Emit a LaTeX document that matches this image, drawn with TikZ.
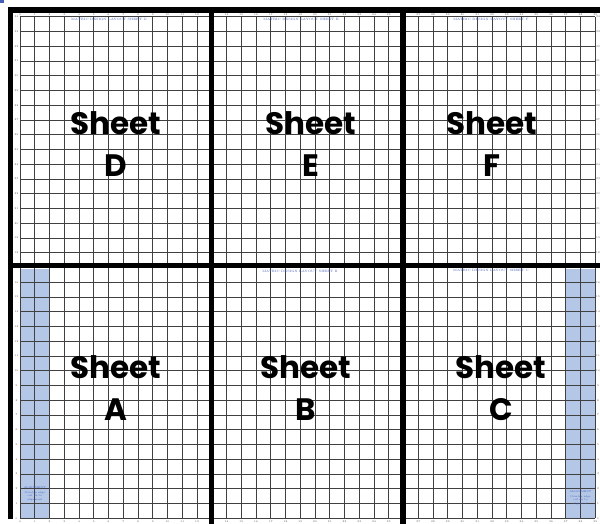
\documentclass[tikz,border=0pt]{standalone}
\usepackage{fontspec}
\newfontfamily\sheetfont{Poppins}
\definecolor{stripblue}{RGB}{180,199,231}
\definecolor{hdrblue}{RGB}{70,95,185}
\tikzset{
  gridln/.style={line width=0.8pt, black!75},
  thickln/.style={line width=5.5pt, black},
  biglbl/.style={anchor=base, font=\sheetfont\bfseries\fontsize{31}{40}\selectfont, inner sep=0pt},
  tinynum/.style={font=\fontsize{2.6}{3}\selectfont, text=black!70, inner sep=0pt},
  hdr/.style={font=\fontsize{3.2}{3.6}\selectfont, text=hdrblue, inner sep=0pt},
  striptxt/.style={font=\fontsize{2.6}{3.6}\selectfont, text=hdrblue, align=center, inner sep=0pt}
}
\begin{document}
\begin{tikzpicture}[x=1pt,y=-1pt]
\useasboundingbox (0,0) rectangle (600,524);
\fill[white] (0,0) rectangle (600,524);
% small blue mark at corner
\fill[hdrblue] (0,0) rectangle (4,3);
% blue strips
\fill[stripblue] (20,269) rectangle (49.5,518.3);
\fill[stripblue] (565.75,269) rectangle (595.25,518.3);
% grid
\foreach \k in {0,...,39}{
  \pgfmathsetmacro\xx{20+14.75*\k}
  \draw[gridln] (\xx,16.8) -- (\xx,518.3);
}
\foreach \j in {0,...,34}{
  \pgfmathsetmacro\yy{518.3-14.75*\j}
  \draw[gridln] (20,\yy) -- (595.25,\yy);
}
% column labels
\foreach \k in {0,...,39} {
  \pgfmathsetmacro\xx{20+14.75*\k}
  \node[tinynum] (ct\k) at (\xx,14.2) {\k};
  \node[tinynum] (cb\k) at (\xx,521.3) {\k};
}
% row labels
\foreach \j in {0,...,16,18,19,...,34} {
  \pgfmathsetmacro\yy{518.3-14.75*\j}
  \node[tinynum] (rl\j) at (16.5,\yy) {\j};
  \node[tinynum] (rr\j) at (598,\yy) {\j};
}
% header texts
\node[hdr] (hD) at (109,19.5) {MATRIC DESIGN LAYOUT SHEET D};
\node[hdr] (hE) at (301,19.5) {MATRIC DESIGN LAYOUT SHEET E};
\node[hdr] (hF) at (491,19.5) {MATRIC DESIGN LAYOUT SHEET F};
\node[hdr] (hB) at (300,271) {MATRIC DESIGN LAYOUT SHEET B};
\node[hdr] (hC) at (491,270.5) {MATRIC DESIGN LAYOUT SHEET C};
% strip texts
\node[striptxt] (sA) at (34.75,494) {ALIGNMENT\\[1pt]Overlap edge\\cut on to\\alignment};
\node[striptxt] (sC) at (580.5,498) {ALIGNMENT\\[1pt]Overlap edge\\cut on to\\alignment};
% thick lines
\draw[thickln, line join=miter] (10.3,519) -- (10.3,10) -- (600,10);
\draw[thickln] (211.5,10) -- (211.5,524);
\draw[thickln] (403,10) -- (403,524);
\draw[thickln] (10.3,265.5) -- (600,265.5);
% big labels
\node[biglbl] (Dw) at (115.5,135) {Sheet};
\node[biglbl] (Dl) at (115.5,177) {D};
\node[biglbl] (Ew) at (311,135) {Sheet};
\node[biglbl] (El) at (311,177) {E};
\node[biglbl] (Fw) at (492,135) {Sheet};
\node[biglbl] (Fl) at (492,177) {F};
\node[biglbl] (Aw) at (115.5,378) {Sheet};
\node[biglbl] (Al) at (115.5,420) {A};
\node[biglbl] (Bw) at (306,378) {Sheet};
\node[biglbl] (Bl) at (306,420) {B};
\node[biglbl] (Cw) at (501,378) {Sheet};
\node[biglbl] (Cl) at (501,420) {C};
\end{tikzpicture}
\end{document}
